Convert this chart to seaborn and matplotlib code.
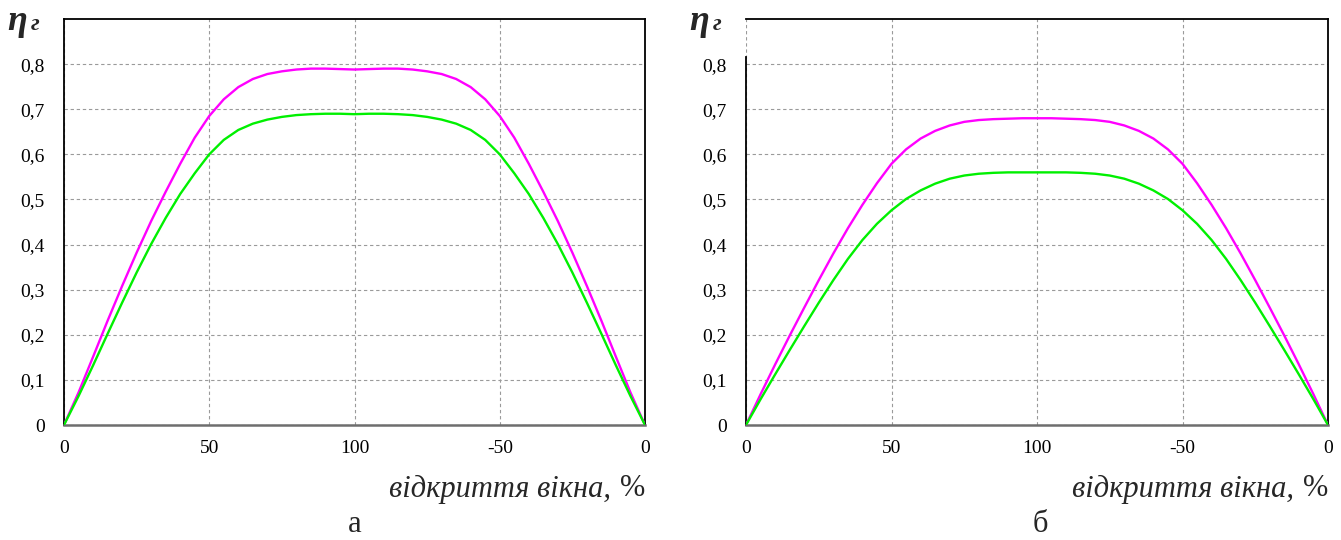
import numpy as np
import pandas as pd
import matplotlib
matplotlib.use("Agg")
import matplotlib.pyplot as plt
import seaborn as sns

# window opening positions along the cycle (0 -> 100 -> back to 0)
position = [0, 5, 10, 15, 20, 25, 30, 35, 40, 45, 50, 55, 60, 65, 70, 75, 80, 85, 90, 95,
            100, 105, 110, 115, 120, 125, 130, 135, 140, 145, 150, 155, 160, 165, 170, 175,
            180, 185, 190, 195, 200]
tick_pos = [0, 50, 100, 150, 200]
tick_labels = ["0", "50", "100", "-50", "0"]
y_ticks = [0, 0.1, 0.2, 0.3, 0.4, 0.5, 0.6, 0.7, 0.8]
y_tick_labels = ["0", "0,1", "0,2", "0,3", "0,4", "0,5", "0,6", "0,7", "0,8"]

# panel а
eta_a_upper = [0.000, 0.072, 0.151, 0.231, 0.308, 0.382, 0.452, 0.517, 0.579, 0.637, 0.685,
               0.722, 0.749, 0.767, 0.778, 0.784, 0.788, 0.790, 0.790, 0.789, 0.788,
               0.789, 0.790, 0.790, 0.788, 0.784, 0.778, 0.767, 0.749, 0.722, 0.685,
               0.637, 0.579, 0.517, 0.452, 0.382, 0.308, 0.231, 0.151, 0.072, 0.000]
eta_a_lower = [0.000, 0.064, 0.132, 0.202, 0.271, 0.338, 0.401, 0.459, 0.512, 0.558, 0.600,
               0.632, 0.654, 0.668, 0.677, 0.683, 0.687, 0.689, 0.690, 0.690, 0.689,
               0.690, 0.690, 0.689, 0.687, 0.683, 0.677, 0.668, 0.654, 0.632, 0.600,
               0.558, 0.512, 0.459, 0.401, 0.338, 0.271, 0.202, 0.132, 0.064, 0.000]

# panel б
eta_b_upper = [0.000, 0.068, 0.134, 0.198, 0.260, 0.321, 0.380, 0.436, 0.488, 0.536, 0.579,
               0.611, 0.635, 0.652, 0.664, 0.672, 0.676, 0.678, 0.679, 0.680, 0.680,
               0.680, 0.679, 0.678, 0.676, 0.672, 0.664, 0.652, 0.635, 0.611, 0.579,
               0.536, 0.488, 0.436, 0.380, 0.321, 0.260, 0.198, 0.134, 0.068, 0.000]
eta_b_lower = [0.000, 0.057, 0.112, 0.166, 0.219, 0.271, 0.321, 0.368, 0.410, 0.446, 0.476,
               0.501, 0.520, 0.535, 0.546, 0.553, 0.557, 0.559, 0.560, 0.560, 0.560,
               0.560, 0.560, 0.559, 0.557, 0.553, 0.546, 0.535, 0.520, 0.501, 0.476,
               0.446, 0.410, 0.368, 0.321, 0.271, 0.219, 0.166, 0.112, 0.057, 0.000]

MAGENTA = "#FF00FF"
GREEN = "#00F000"
GRID = "#9a9a9a"

sns.set_style("white")
plt.rcParams["font.family"] = ["Liberation Serif", "DejaVu Serif"]

W, H = 1341, 540
fig = plt.figure(figsize=(W / 100, H / 100), dpi=100)


def panel(left_px, right_px, upper, lower, open_top):
    ax = fig.add_axes([left_px / W, 1 - 425 / H, (right_px - left_px) / W, (425 - 19) / H])
    df = pd.DataFrame({"x": position * 2,
                       "eta": upper + lower,
                       "s": ["upper"] * len(position) + ["lower"] * len(position)})
    sns.lineplot(data=df, x="x", y="eta", hue="s", palette={"upper": MAGENTA, "lower": GREEN},
                 linewidth=1.7, legend=False, ax=ax, zorder=3)
    ax.set_xlim(0, 200)
    ax.set_ylim(0, 0.9)
    ax.set_xticks(tick_pos)
    ax.set_xticklabels(tick_labels)
    ax.set_yticks(y_ticks)
    ax.set_yticklabels(y_tick_labels)
    ax.tick_params(length=0, labelsize=14, colors="black")
    ax.tick_params(axis="x", pad=11)
    ax.tick_params(axis="y", pad=14)
    ax.grid(True, color=GRID, linestyle=(0, (3, 2.5)), linewidth=0.8)
    ax.set_xlabel("")
    ax.set_ylabel("")
    for side in ["top", "right", "left"]:
        ax.spines[side].set_color("black")
        ax.spines[side].set_linewidth(1.3)
    ax.spines["bottom"].set_color("#6e6e6e")
    ax.spines["bottom"].set_linewidth(1.8)
    if open_top:
        ax.spines["left"].set_bounds(0, 0.816)
    return ax


ax_a = panel(64, 645, eta_a_upper, eta_a_lower, False)
ax_b = panel(746, 1328, eta_b_upper, eta_b_lower, True)

# x-axis captions: italic words followed by an upright percent sign
for right_px in (645, 1328):
    fig.text(right_px / W, 1 - 489 / H, "%", ha="right", va="center", fontsize=22)
    fig.text((right_px - 34) / W, 1 - 489 / H, "відкриття вікна,", ha="right", va="center",
             fontsize=22, style="italic")

# panel letters
fig.text(355 / W, 1 - 525 / H, "а", ha="center", va="center", fontsize=22)
fig.text(1040 / W, 1 - 525 / H, "б", ha="center", va="center", fontsize=22)

# y-axis symbol η with subscript г
for x_px in (7, 689):
    fig.text(x_px / W, 1 - 22 / H, "η", ha="left", va="center", fontsize=26,
             style="italic", weight="bold")
    fig.text((x_px + 24) / W, 1 - 25 / H, "г", ha="left", va="center", fontsize=17,
             style="italic", weight="bold")

fig.savefig("out.png", dpi=100, facecolor="white")
